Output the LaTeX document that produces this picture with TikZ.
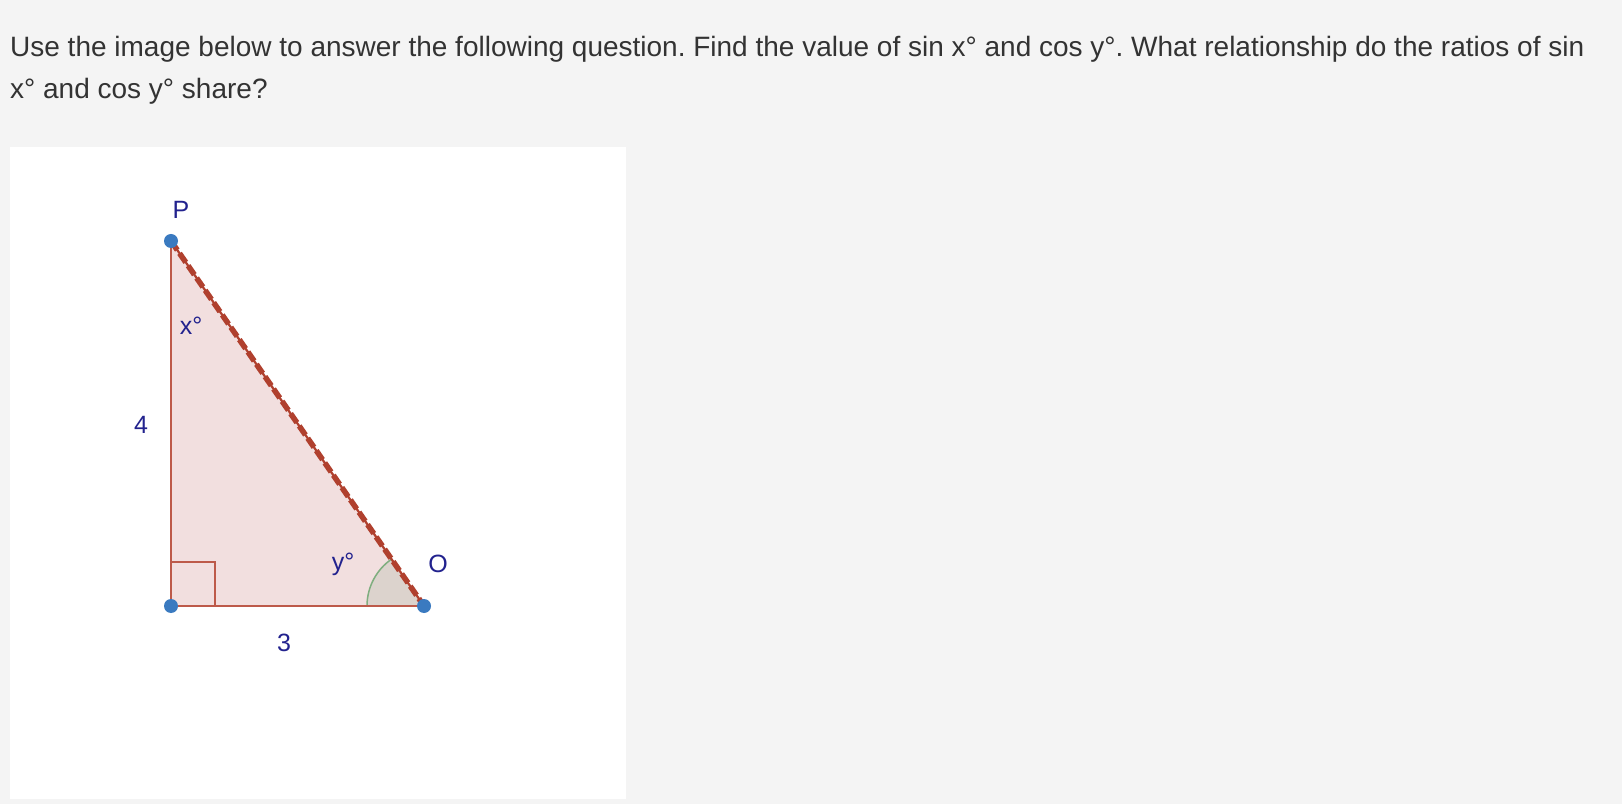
\documentclass[tikz,border=0pt]{standalone}
\usepackage{fontspec}
\setmainfont{Liberation Sans}
\frenchspacing
\definecolor{bgc}{HTML}{F4F4F4}
\definecolor{txt}{HTML}{333333}
\definecolor{lbl}{HTML}{22228E}
\definecolor{edge}{HTML}{BD5A4A}
\definecolor{hyp}{HTML}{B0402E}
\definecolor{fillc}{HTML}{F2DFDF}
\definecolor{dotc}{HTML}{3A7AC0}
\definecolor{angf}{HTML}{DCD3CD}
\definecolor{angl}{HTML}{7FAE7F}
\tikzset{
  qtext/.style={anchor=base west, inner sep=0pt, text=txt, font=\fontsize{28}{31}\selectfont},
  lab/.style={inner sep=0pt, text=lbl, font=\fontsize{25}{28}\selectfont},
  ptdot/.style={circle, fill=dotc, inner sep=0pt, minimum size=14pt},
}
\begin{document}
\begin{tikzpicture}[x=1pt,y=1pt]
\fill[bgc] (0,0) rectangle (1622,804);
\useasboundingbox (0,0) rectangle (1622,804);
\fill[white] (10,5) rectangle (626,657);
\node[qtext] (l1) at (10,747) {Use the image below to answer the following question. Find the value of sin x° and cos y°. What relationship do the ratios of sin};
\node[qtext] (l2) at (10,705) {x° and cos y° share?};
\coordinate (P) at (171,563);
\coordinate (R) at (171,198);
\coordinate (O) at (424,198);
\fill[fillc] (P) -- (R) -- (O) -- cycle;
\fill[angf] (O) -- ++(180:57) arc[start angle=180, end angle=124.7, radius=57] -- cycle;
\draw[angl, line width=1.5pt] (O) ++(180:57) arc[start angle=180, end angle=124.7, radius=57];
\draw[edge, line width=1.3pt] (R) rectangle ++(44,44);
\draw[edge, line width=2.6pt] (P) -- (R) -- (O);
\draw[hyp, line width=2.2pt] (P) -- (O);
\draw[hyp, line width=5.5pt, dash pattern=on 11pt off 4pt] (P) -- (O);
\node[ptdot] (dP) at (P) {};
\node[ptdot] (dR) at (R) {};
\node[ptdot] (dO) at (O) {};
\node[lab] (lP) at (181,594) {P};
\node[lab] (lx) at (191,478) {x°};
\node[lab] (l4) at (141,379) {4};
\node[lab] (ly) at (343,240) {y°};
\node[lab] (lO) at (438,240) {O};
\node[lab] (l3) at (284,161) {3};
\end{tikzpicture}
\end{document}
